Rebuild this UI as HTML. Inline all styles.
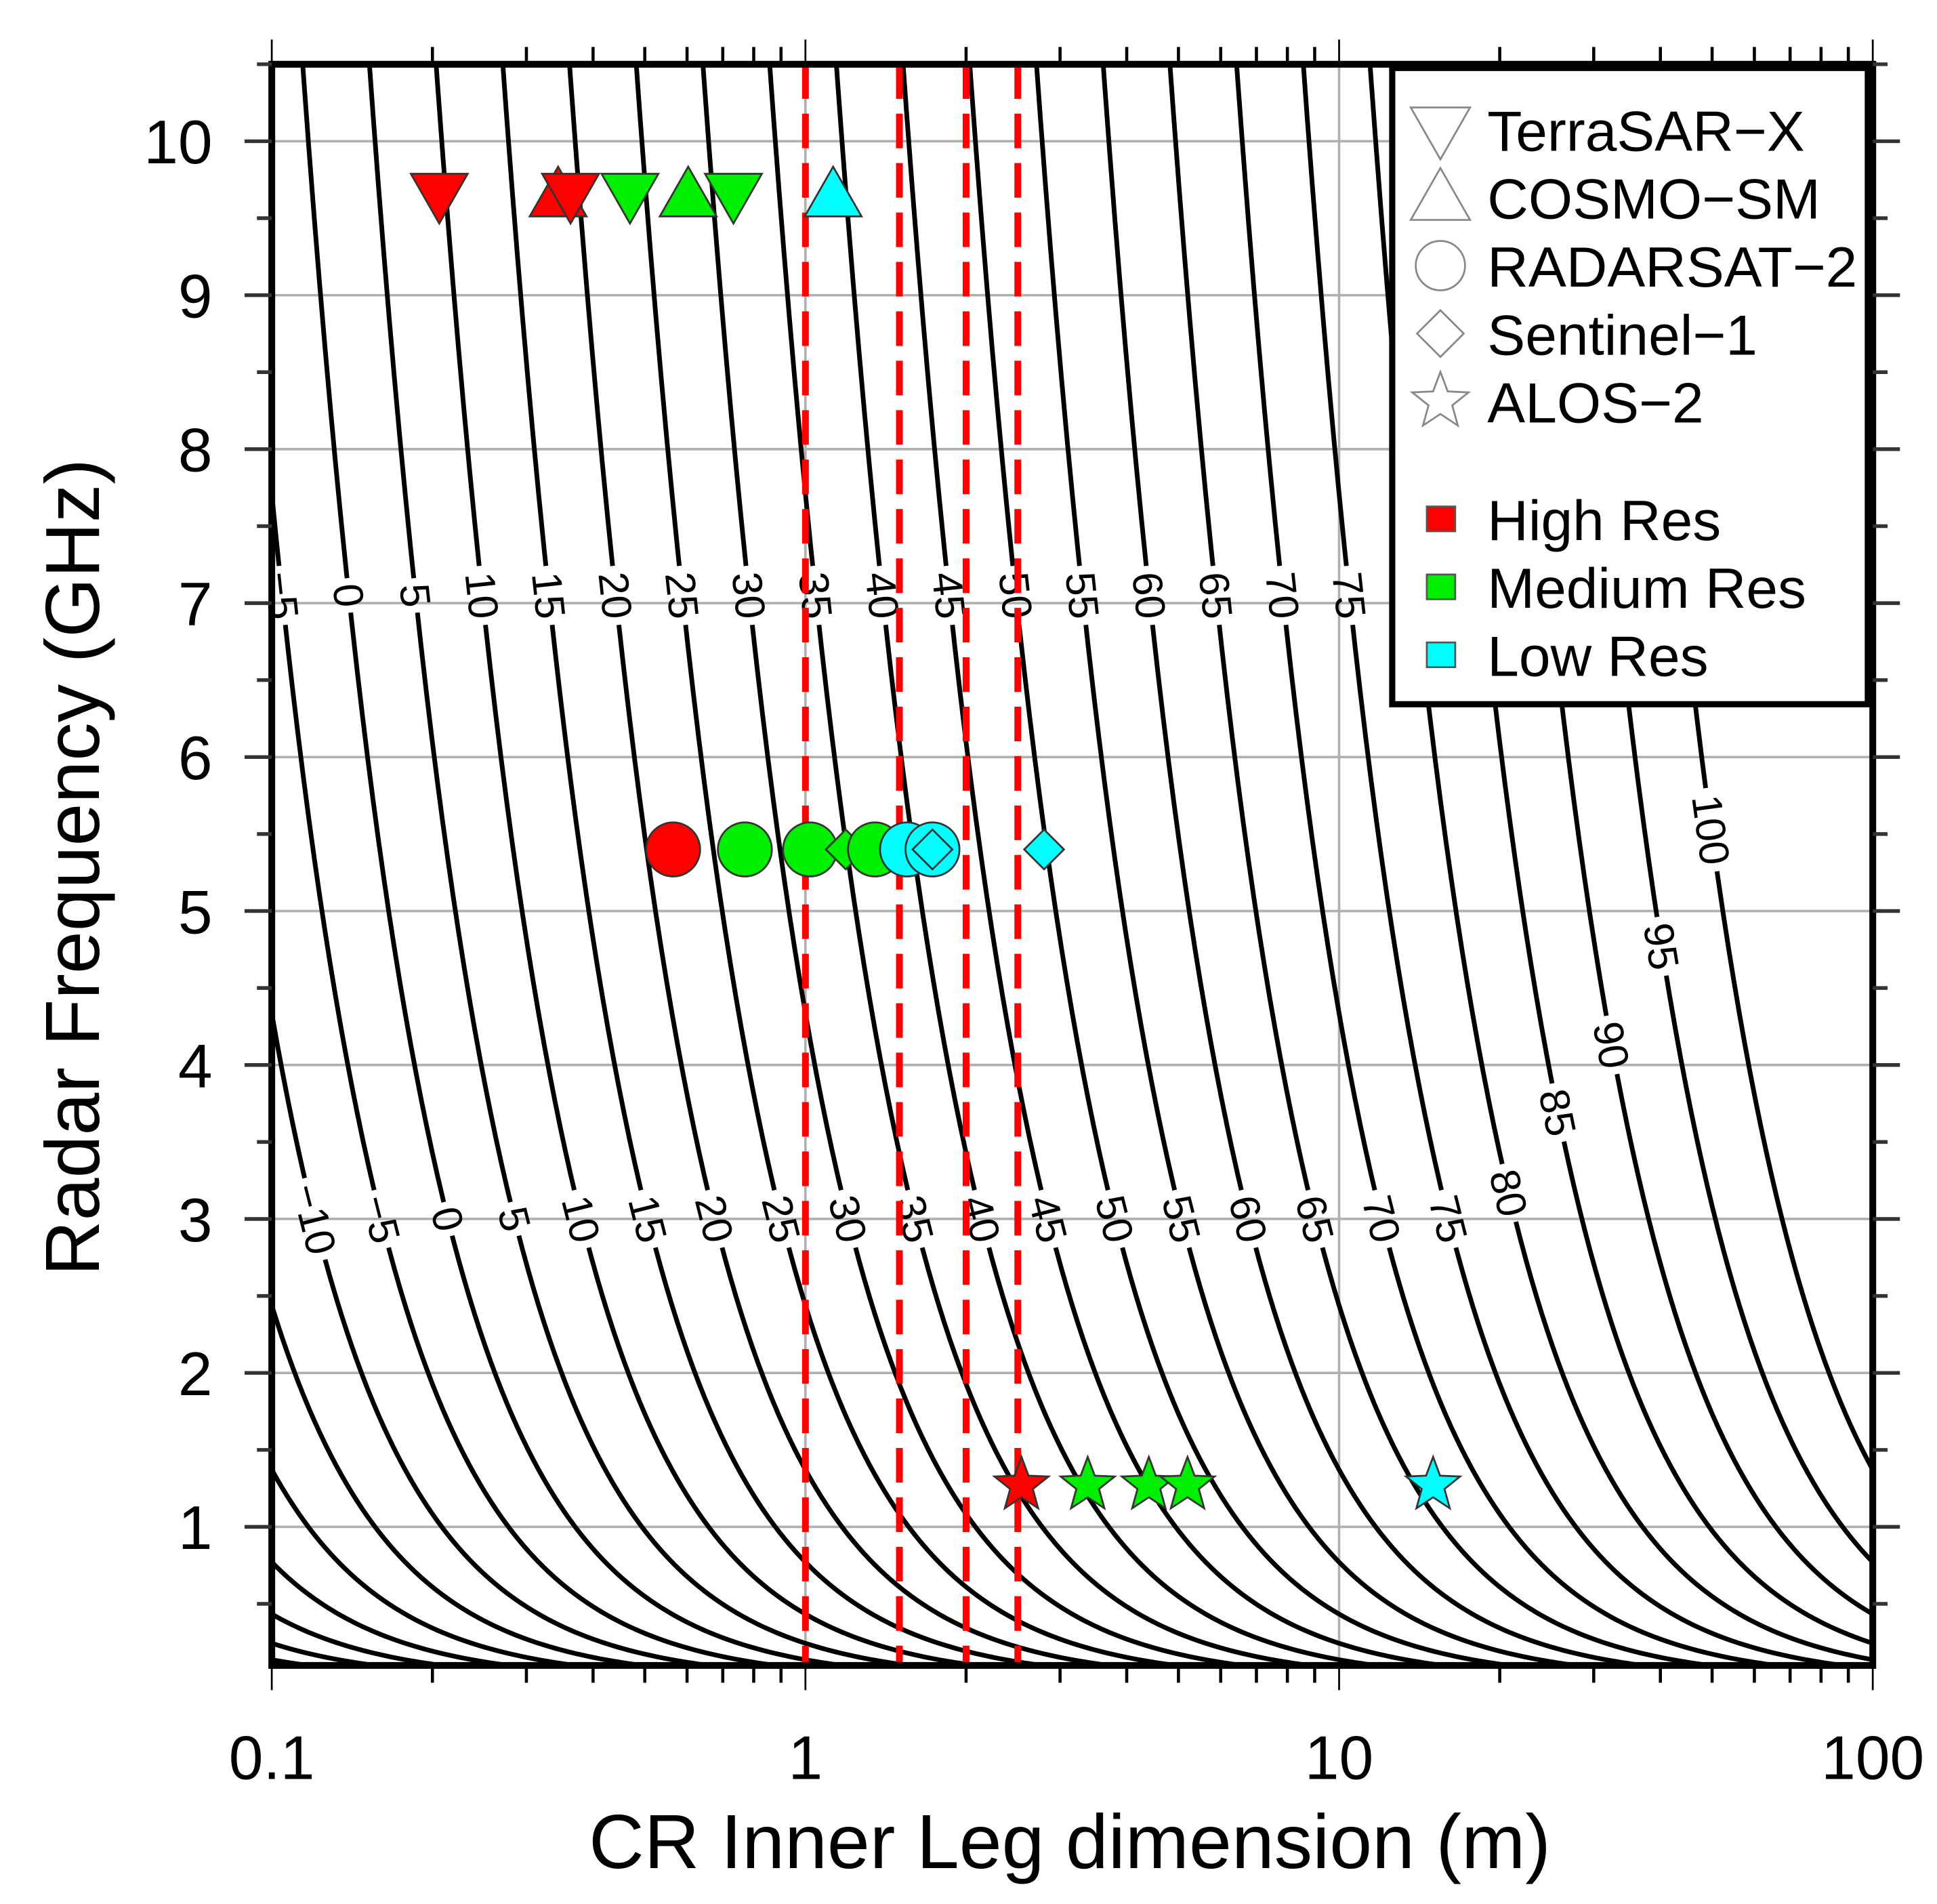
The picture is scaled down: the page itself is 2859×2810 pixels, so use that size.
<!DOCTYPE html>
<html><head><meta charset="utf-8"><style>
html,body{margin:0;padding:0;background:#fff;}
svg{display:block;font-family:"Liberation Sans",sans-serif;}
</style></head><body>
<svg id="chart" width="2859" height="2810" viewBox="0 0 1568 1541.1" preserveAspectRatio="none" xmlns="http://www.w3.org/2000/svg">
<defs>
<clipPath id="plotclip"><rect x="220" y="52" width="1296" height="1296"/></clipPath>
<mask id="lblmask" maskUnits="userSpaceOnUse" x="0" y="0" width="1568" height="1541"><rect x="0" y="0" width="1568" height="1541" fill="#fff"/><g id="maskg"></g></mask>
</defs>
<rect x="0" y="0" width="1568" height="1541" fill="#fff"/>
<g id="grid"></g>
<g id="contours" clip-path="url(#plotclip)"><g id="contourlines" mask="url(#lblmask)"></g></g>
<g id="contourlabels"></g>
<g id="dashes" clip-path="url(#plotclip)"></g>
<g id="markers"></g>
<g id="axes"></g>
<g id="legend"></g>
<text x="866" y="1512" font-size="62" text-anchor="middle">CR Inner Leg dimension (m)</text>
<text transform="translate(80,702) rotate(-90)" font-size="62" text-anchor="middle">Radar Frequency (GHz)</text>
</svg>
<script>
// ---- data ----
const contourLevels = [-60,-55,-50,-45,-40,-35,-30,-25,-20,-15,-10,-5,0,5,10,15,20,25,30,35,40,45,50,55,60,65,70,75,80,85,90,95,100];
const labelLevels7 = [-5,0,5,10,15,20,25,30,35,40,45,50,55,60,65,70,75];
const labelLevels3 = [-10,-5,0,5,10,15,20,25,30,35,40,45,50,55,60,65,70,75];
const labelLevelsDiag = [80,85,90,95,100];
const labelDiagSizes = [20.8,25.7,32.4,40.2,49.8];
const dashedSizes = [1.0,1.5,2.0,2.5];
const xTickValues = [0.1,1,10,100];
const xTickLabels = ["0.1","1","10","100"];
const yTickValues = [1,2,3,4,5,6,7,8,9,10];
const yTickLabels = ["1","2","3","4","5","6","7","8","9","10"];
const markerSize = [0.206,0.344,0.363,0.469,0.603,0.733,1.127,0.565,0.77,1.02,1.19,1.35,1.55,1.73,1.73,2.8,2.54,3.38,4.4,5.2,15.0];
const markerFreq = [9.65,9.65,9.65,9.65,9.65,9.65,9.65,5.4,5.4,5.4,5.4,5.4,5.4,5.4,5.4,5.4,1.27,1.27,1.27,1.27,1.27];
const markerShape = ["tdown","tup","tdown","tdown","tup","tdown","tup","circle","circle","circle","diamond","circle","circle","circle","diamond","diamond","star","star","star","star","star"];
const markerRes = ["high","high","high","med","med","med","low","high","med","med","med","med","low","low","low","low","high","med","med","med","low"];
const legendShapes = ["tdown","tup","circle","diamond","star"];
const legendShapeNames = ["TerraSAR\u2212X","COSMO\u2212SM","RADARSAT\u22122","Sentinel\u22121","ALOS\u22122"];
const legendResNames = ["High Res","Medium Res","Low Res"];
const legendResKeys = ["high","med","low"];

// ---- scales ----
const X0=220,X1=1516,Y0=1348,Y1=52;
const K=0.1371;
const xs=a=>X0+(Math.log10(a)+1)/3*(X1-X0);
const ys=f=>Y0-(f-0.1)/(10.5-0.1)*(Y0-Y1);
const fOf=(L,a)=>K*Math.sqrt(Math.pow(10,L/10))/(a*a);
const aOf=(L,f)=>Math.sqrt(K*Math.sqrt(Math.pow(10,L/10))/f);
const colors={high:"#ff0000",med:"#00ee00",low:"#00ffff"};
const NS="http://www.w3.org/2000/svg";
function mk(tag,attrs,parent){const e=document.createElementNS(NS,tag);for(const k in attrs)e.setAttribute(k,attrs[k]);parent.appendChild(e);return e;}

// grid
const grid=document.getElementById('grid');
yTickValues.forEach(v=>{const l=mk('line',{x1:X0,x2:X1,y1:ys(v),y2:ys(v),stroke:'#b0b0b0','stroke-width':2},grid);

});
[1,10].forEach(v=>{const l=mk('line',{x1:xs(v),x2:xs(v),y1:Y1,y2:Y0,stroke:'#b0b0b0','stroke-width':2},grid);

});

// contours
const cl=document.getElementById('contourlines');
contourLevels.forEach(L=>{let d='';for(let i=0;i<=300;i++){const la=-1+3*i/300;const a=Math.pow(10,la);let f=fOf(L,a);if(f>12)f=12;d+=(i?'L':'M')+xs(a).toFixed(2)+' '+ys(f).toFixed(2);}
const p=mk('path',{d:d,fill:'none',stroke:'#000','stroke-width':3.8},cl);

});

// labels
const lg=document.getElementById('contourlabels'),mg=document.getElementById('maskg');
function addLabel(L,a,f){const x=xs(a),y=ys(f);if(x<X0||x>X1)return;
const ang=Math.atan(1.328*f)*180/Math.PI;
const txt=String(L).replace('-','\u2212');const w=txt.length*20+8;
mk('rect',{x:-w/2,y:-18,width:w,height:36,fill:'#000',transform:`translate(${x},${y}) rotate(${ang})`},mg);
const t=mk('text',{x:0,y:12,'font-size':34,'text-anchor':'middle',transform:`translate(${x},${y}) rotate(${ang})`},lg);
t.textContent=txt;

}
labelLevels7.forEach(L=>addLabel(L,aOf(L,7.05),7.05));
labelLevels3.forEach(L=>addLabel(L,aOf(L,3.0),3.0));
labelLevelsDiag.forEach((L,i)=>addLabel(L,labelDiagSizes[i],fOf(L,labelDiagSizes[i])));

// dashed
const dg=document.getElementById('dashes');
dashedSizes.forEach(a=>{const l=mk('line',{x1:xs(a),x2:xs(a),y1:Y1,y2:Y0,stroke:'#ff0000','stroke-width':5.5,'stroke-dasharray':'28 12'},dg);

});

// markers
function shape(s,x,y,r,fill,stroke,sw,parent){let e;
if(s==='tdown')e=mk('polygon',{points:`${x-r},${y-r*0.75} ${x+r},${y-r*0.75} ${x},${y+r*1.0}`},parent);
else if(s==='tup')e=mk('polygon',{points:`${x-r},${y+r*0.75} ${x+r},${y+r*0.75} ${x},${y-r*1.0}`},parent);
else if(s==='circle')e=mk('circle',{cx:x,cy:y,r:r*0.95},parent);
else if(s==='diamond')e=mk('polygon',{points:`${x},${y-r*0.7} ${x+r*0.7},${y} ${x},${y+r*0.7} ${x-r*0.7},${y}`},parent);
else{let pts=[];for(let k=0;k<10;k++){const rr=k%2?r*0.42:r;const t=-Math.PI/2+k*Math.PI/5;pts.push((x+rr*Math.cos(t)).toFixed(1)+','+(y+rr*Math.sin(t)).toFixed(1));}e=mk('polygon',{points:pts.join(' ')},parent);}
e.setAttribute('fill',fill);e.setAttribute('stroke',stroke);e.setAttribute('stroke-width',sw);return e;}
const mgp=document.getElementById('markers');
markerSize.forEach((a,i)=>{const e=shape(markerShape[i],xs(a),ys(markerFreq[i]),23,colors[markerRes[i]],'#333',1.5,mgp);

});

// axes
const ax=document.getElementById('axes');
mk('rect',{x:X0,y:Y1,width:X1-X0,height:Y0-Y1,fill:'none',stroke:'#000','stroke-width':5.5},ax);
for(let d=-1;d<2;d++)for(let m=1;m<10;m++){const v=m*Math.pow(10,d);const x=xs(v);const len=m===1?20:14;
mk('line',{x1:x,x2:x,y1:Y0,y2:Y0+len,stroke:'#000','stroke-width':m===1?1.5:2.5},ax);
mk('line',{x1:x,x2:x,y1:Y1,y2:Y1-len,stroke:'#000','stroke-width':m===1?1.5:2.5},ax);}
mk('line',{x1:X1,x2:X1,y1:Y0,y2:Y0+20,stroke:'#000','stroke-width':1.5},ax);
mk('line',{x1:X1,x2:X1,y1:Y1,y2:Y1-20,stroke:'#000','stroke-width':1.5},ax);
for(let v=0.5;v<=10.5;v+=0.5){const y=ys(v);const len=(v%1===0)?22:12;
mk('line',{x1:X0-len,x2:X0,y1:y,y2:y,stroke:'#333','stroke-width':3},ax);
mk('line',{x1:X1,x2:X1+len,y1:y,y2:y,stroke:'#333','stroke-width':3},ax);}
xTickValues.forEach((v,i)=>{const t=mk('text',{x:xs(v),y:1440,'font-size':50,'text-anchor':'middle'},ax);t.textContent=xTickLabels[i];

});
yTickValues.forEach((v,i)=>{const t=mk('text',{x:172,y:ys(v)+18,'font-size':50,'text-anchor':'end'},ax);t.textContent=yTickLabels[i];

});

// legend
const lgd=document.getElementById('legend');
mk('rect',{x:1127,y:55,width:385,height:515,fill:'#fff',stroke:'#000','stroke-width':5},lgd);
legendShapes.forEach((s,i)=>{const y=105+i*55;
const e=shape(s,1166,y,s==='circle'?21:(s==='diamond'?27:24),'none','#888',1.5,lgd);


const t=mk('text',{x:1204,y:y+17,'font-size':46},lgd);t.textContent=legendShapeNames[i];

});
legendResKeys.forEach((k,i)=>{const y=420+i*55;
const r=mk('rect',{x:1155,y:y-10,width:23,height:20,fill:colors[k],stroke:'#555','stroke-width':1.5},lgd);


const t=mk('text',{x:1204,y:y+17,'font-size':46},lgd);t.textContent=legendResNames[i];

});
</script>
</body></html>
